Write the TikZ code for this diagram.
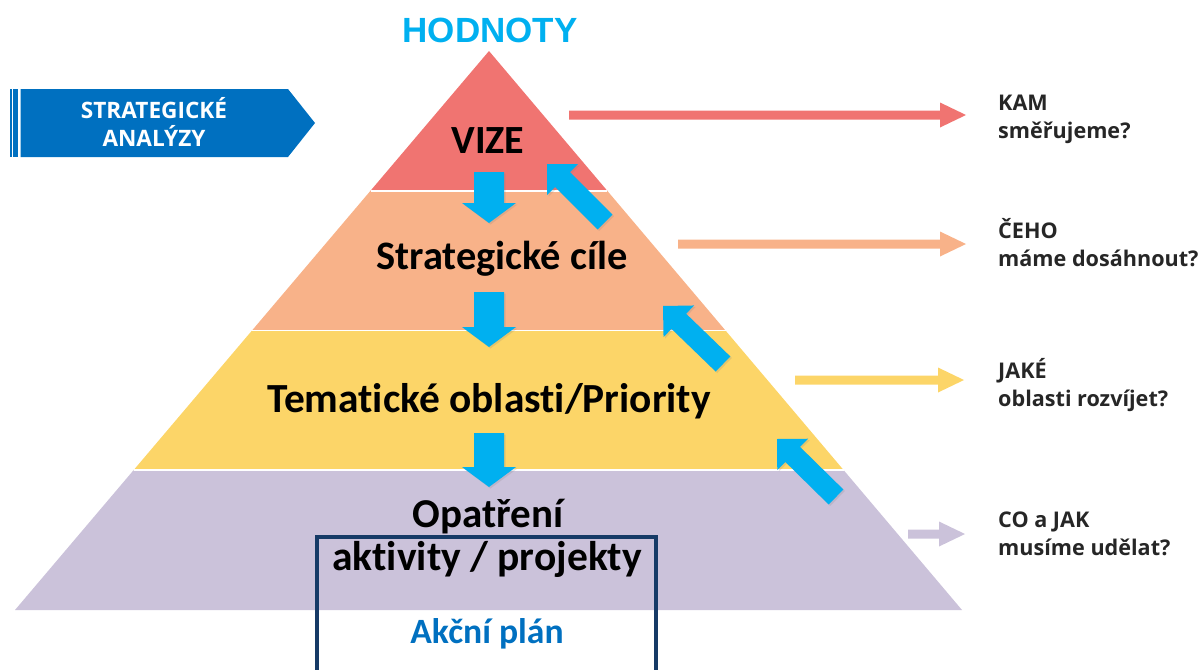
\documentclass[tikz,border=0pt]{standalone}
\usepackage{fontspec}
\setmainfont{Carlito}[Ligatures=NoCommon]
\newfontfamily\qfont{Open Sans}
\newfontfamily\hfont{Liberation Sans}
\usepackage{tikz}
\usetikzlibrary{arrows.meta, calc, positioning, shadows}

\definecolor{VizeRed}{RGB}{240,116,113}
\definecolor{CileOrange}{RGB}{248,178,137}
\definecolor{OblastYellow}{RGB}{252,213,104}
\definecolor{OpatLavender}{RGB}{203,194,218}
\definecolor{FlowBlue}{RGB}{0,176,240}
\definecolor{BoxBlue}{RGB}{0,112,192}
\definecolor{PlanNavy}{RGB}{22,58,102}
\definecolor{QText}{RGB}{38,38,38}

% block arrow: tail, tip, shaft half width, head half width, head length, style
\newcommand\blockarrow[6]{%
  \coordinate (bah) at ($(#2)!#5!(#1)$);
  \fill[#6] ($(#1)!#3!90:(#2)$) -- ($(bah)!#3!90:(#2)$) -- ($(bah)!#4!90:(#2)$) -- (#2)
    -- ($(bah)!#4!-90:(#2)$) -- ($(bah)!#3!-90:(#2)$) -- ($(#1)!#3!-90:(#2)$) -- cycle;}

\tikzset{
  sep/.style={white, line width=1.6pt},
  pyrlabel/.style={anchor=base, inner sep=0pt, text=black},
  qlabel/.style={anchor=base west, align=left, inner sep=0pt, text=QText,
    font=\qfont\bfseries\fontsize{21.6}{27.5}\selectfont},
  flow/.style={FlowBlue, drop shadow={opacity=0.2, shadow xshift=1.5pt, shadow yshift=-1.5pt}}
}

\begin{document}
\begin{tikzpicture}[x=1pt, y=-1pt]
	\useasboundingbox (0,0) rectangle (1201,669);

	% pyramid
	\coordinate (apex) at (489,51);
	\coordinate (bl) at (15,610);
	\coordinate (br) at (962,610);
	\fill[VizeRed] (apex) -- ($(apex)!0.25!(br)$) -- ($(apex)!0.25!(bl)$) -- cycle;
	\fill[CileOrange] ($(apex)!0.25!(bl)$) -- ($(apex)!0.25!(br)$) -- ($(apex)!0.5!(br)$) -- ($(apex)!0.5!(bl)$) -- cycle;
	\fill[OblastYellow] ($(apex)!0.5!(bl)$) -- ($(apex)!0.5!(br)$) -- ($(apex)!0.75!(br)$) -- ($(apex)!0.75!(bl)$) -- cycle;
	\fill[OpatLavender] ($(apex)!0.75!(bl)$) -- ($(apex)!0.75!(br)$) -- (br) -- (bl) -- cycle;
	\foreach \t in {0.25,0.5,0.75}
		\draw[sep] ($(apex)!\t!(bl)$) -- ($(apex)!\t!(br)$);

	\node[anchor=base, inner sep=0pt, text=FlowBlue, font=\hfont\bfseries\fontsize{35}{40}\selectfont] (hodnoty) at (490,42) {HODNOTY};

	% layer texts
	\node[pyrlabel, font=\bfseries\fontsize{40}{44}\selectfont] (vize) at (488,153) {VIZE};
	\node[pyrlabel, font=\bfseries\fontsize{40.4}{44}\selectfont] (cile) at (502,269) {Strategické cíle};
	\node[pyrlabel, font=\bfseries\fontsize{41.4}{44}\selectfont] (oblasti) at (489,412) {Tematické oblasti/Priority};
	\node[pyrlabel, font=\bfseries\fontsize{41}{44}\selectfont] (opatreni) at (488,527) {Opatření};
	\node[pyrlabel, font=\bfseries\fontsize{41.5}{44}\selectfont] (aktivity) at (487,570) {aktivity / projekty};
	\node[pyrlabel, text=BoxBlue, font=\bfseries\fontsize{35.6}{40}\selectfont] (akcni) at (487,643) {Akční plán};

	% action plan frame
	\coordinate (planl) at (317,671);
	\coordinate (planr) at (656,671);
	\draw[PlanNavy, line width=3.5pt] (planl) |- (656,537) -- (planr);

	% strategic analyses box
	\fill[BoxBlue] (10,89) rectangle (12,157);
	\fill[BoxBlue] (13.3,89) rectangle (18.3,157);
	\fill[BoxBlue] (20.7,89) -- (288,89) -- (315,123) -- (288,157) -- (20.7,157) -- cycle;
	\node[anchor=base, align=center, inner sep=0pt, text=white,
		font=\qfont\bfseries\fontsize{22.6}{28}\selectfont] (analyzy) at (154,146) {STRATEGICKÉ\\ANALÝZY};

	% blue flow arrows
	\coordinate (d1a) at (489,172); \coordinate (d1b) at (489,223);
	\coordinate (d2a) at (489,292); \coordinate (d2b) at (489,347);
	\coordinate (d3a) at (489,433); \coordinate (d3b) at (489,487);
	\blockarrow{d1a}{d1b}{15pt}{27pt}{20pt}{flow}
	\blockarrow{d2a}{d2b}{15pt}{27pt}{20pt}{flow}
	\blockarrow{d3a}{d3b}{15pt}{27pt}{20pt}{flow}
	\coordinate (u1a) at (605,222); \coordinate (u1b) at (547,164);
	\coordinate (u2a) at (723,364); \coordinate (u2b) at (663,306);
	\coordinate (u3a) at (836,497); \coordinate (u3b) at (777,439);
	\blockarrow{u1a}{u1b}{10.5pt}{22pt}{22pt}{flow}
	\blockarrow{u2a}{u2b}{10.5pt}{22pt}{22pt}{flow}
	\blockarrow{u3a}{u3b}{10.5pt}{22pt}{22pt}{flow}

	% questions
	\coordinate (q1a) at (569,115); \coordinate (q1b) at (966,115);
	\coordinate (q2a) at (678,244); \coordinate (q2b) at (966,244);
	\coordinate (q3a) at (795,380); \coordinate (q3b) at (964,380);
	\coordinate (q4a) at (908,534); \coordinate (q4b) at (965,534);
	\blockarrow{q1a}{q1b}{4.5pt}{12.5pt}{26pt}{VizeRed}
	\blockarrow{q2a}{q2b}{4.5pt}{12.5pt}{26pt}{CileOrange}
	\blockarrow{q3a}{q3b}{4.5pt}{12.5pt}{26pt}{OblastYellow}
	\blockarrow{q4a}{q4b}{4.5pt}{12.5pt}{26pt}{OpatLavender}

	\node[qlabel] (kam) at (998,138) {KAM\\směřujeme?};
	\node[qlabel] (ceho) at (998,266) {ČEHO\\máme dosáhnout?};
	\node[qlabel] (jake) at (998,406) {JAKÉ\\oblasti rozvíjet?};
	\node[qlabel] (cojak) at (998,555) {CO a JAK\\musíme udělat?};
\end{tikzpicture}
\end{document}
